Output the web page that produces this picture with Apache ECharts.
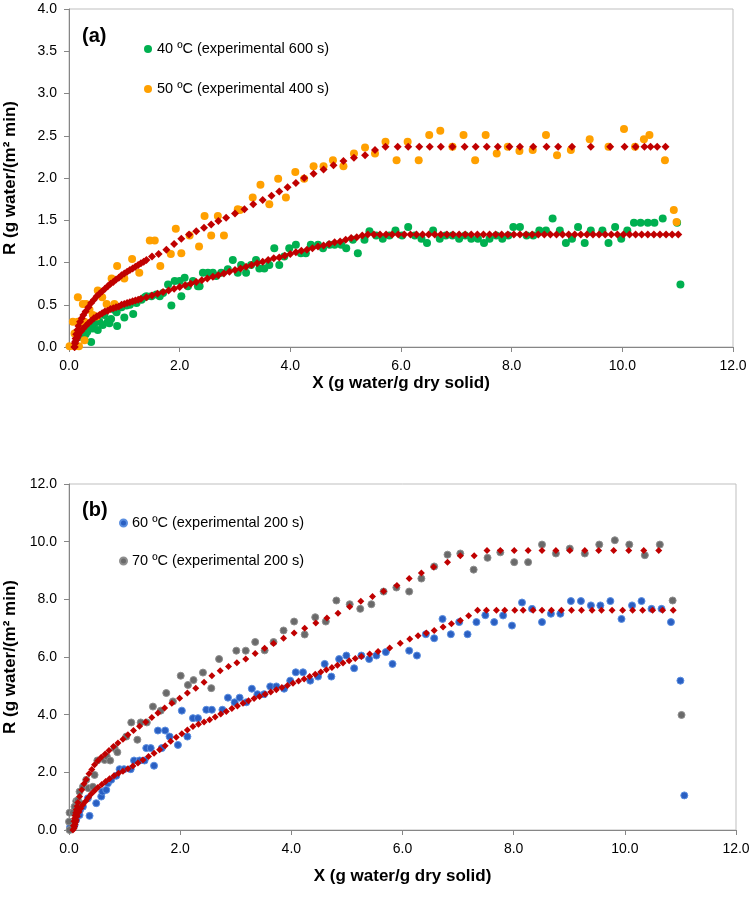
<!DOCTYPE html>
<html>
<head>
<meta charset="utf-8">
<script src="https://cdn.jsdelivr.net/npm/echarts@6/dist/echarts.min.js"></script>
<style>
html,body{margin:0;padding:0;background:#fff;}
#chart{width:749px;height:898px;}
</style>
</head>
<body>
<div id="chart"></div>
<script>
// ---------- tick / label data ----------
const panelLabels = ['(a)', '(b)'];
const xTitle = 'X (g water/g dry solid)';
const yTitle = 'R (g water/(m\u00B2 min)';
const legendTop = ['40 \u00BAC (experimental 600 s)', '50 \u00BAC (experimental 400 s)'];
const legendBottom = ['60 \u00BAC (experimental 200 s)', '70 \u00BAC (experimental 200 s)'];

// ---------- panel (a) ----------
const exp40 = [[0.19,0.18],[0.22,0.12],[0.28,0.2],[0.30,0.15],[0.33,0.18],[0.40,0.06],[0.37,0.22],[0.43,0.22],[0.46,0.28],[0.52,0.20],[0.55,0.30],[0.61,0.26],[0.64,0.38],[0.70,0.30],[0.73,0.28],[0.76,0.33],[0.82,0.44],[0.86,0.41],[0.87,0.25],[0.92,0.47],[0.95,0.47],[1.0,0.35],[1.04,0.49],[1.10,0.50],[1.16,0.39],[1.22,0.52],[1.31,0.56],[1.37,0.59],[1.40,0.60],[1.49,0.60],[1.58,0.62],[1.64,0.60],[1.70,0.64],[1.79,0.74],[1.85,0.49],[1.91,0.78],[2.0,0.78],[2.03,0.60],[2.09,0.82],[2.15,0.72],[2.24,0.78],[2.33,0.72],[2.36,0.72],[2.42,0.88],[2.51,0.88],[2.60,0.88],[2.66,0.84],[2.75,0.88],[2.87,0.92],[2.96,1.03],[3.05,0.88],[3.11,0.97],[3.20,0.88],[3.29,0.97],[3.38,1.03],[3.44,0.93],[3.53,0.93],[3.62,0.97],[3.71,1.17],[3.80,0.97],[3.89,1.07],[3.98,1.17],[4.10,1.21],[4.19,1.11],[4.28,1.11],[4.37,1.21],[4.50,1.21],[4.59,1.17],[4.71,1.21],[4.80,1.21],[4.92,1.21],[5.01,1.17],[5.13,1.27],[5.22,1.11],[5.34,1.27],[5.43,1.37],[5.55,1.32],[5.67,1.28],[5.79,1.32],[5.90,1.38],[6.02,1.32],[6.13,1.42],[6.25,1.32],[6.37,1.28],[6.47,1.23],[6.58,1.38],[6.70,1.28],[6.81,1.32],[6.93,1.32],[7.05,1.28],[7.16,1.32],[7.27,1.28],[7.39,1.28],[7.50,1.23],[7.60,1.28],[7.72,1.32],[7.83,1.28],[7.94,1.32],[8.03,1.42],[8.15,1.42],[8.27,1.32],[8.39,1.32],[8.50,1.38],[8.62,1.38],[8.74,1.52],[8.87,1.38],[8.98,1.23],[9.09,1.28],[9.20,1.42],[9.32,1.23],[9.43,1.38],[9.64,1.38],[9.75,1.23],[9.87,1.42],[9.98,1.28],[10.09,1.38],[10.21,1.47],[10.33,1.47],[10.46,1.47],[10.58,1.47],[10.73,1.52],[10.99,1.47],[11.05,0.74]];

const exp50 = [[0.01,0.01],[0.10,0.01],[0.18,0.01],[0.10,0.16],[0.07,0.30],[0.16,0.30],[0.22,0.30],[0.28,0.30],[0.16,0.59],[0.25,0.51],[0.31,0.51],[0.28,0.08],[0.37,0.44],[0.43,0.38],[0.50,0.36],[0.52,0.67],[0.60,0.59],[0.68,0.51],[0.77,0.81],[0.82,0.51],[0.87,0.96],[1.0,0.81],[1.14,1.04],[1.27,0.88],[1.46,1.26],[1.55,1.26],[1.65,0.96],[1.84,1.10],[1.93,1.40],[2.03,1.11],[2.18,1.32],[2.35,1.19],[2.45,1.55],[2.57,1.32],[2.69,1.55],[2.80,1.32],[3.05,1.63],[3.09,1.62],[3.32,1.77],[3.46,1.92],[3.62,1.69],[3.78,1.99],[3.92,1.77],[4.09,2.07],[4.25,1.99],[4.42,2.14],[4.60,2.14],[4.77,2.21],[4.96,2.14],[5.15,2.29],[5.35,2.36],[5.53,2.29],[5.72,2.43],[5.92,2.21],[6.12,2.43],[6.32,2.21],[6.51,2.51],[6.71,2.56],[6.93,2.37],[7.13,2.51],[7.34,2.21],[7.53,2.51],[7.73,2.29],[7.93,2.37],[8.14,2.32],[8.38,2.33],[8.62,2.51],[8.82,2.27],[9.07,2.33],[9.41,2.46],[9.75,2.37],[10.03,2.58],[10.23,2.37],[10.39,2.46],[10.49,2.51],[10.77,2.21],[10.93,1.62],[10.98,1.48]];

const model40 = [[0.10,0.0],[0.11,0.04],[0.13,0.08],[0.15,0.11],[0.17,0.14],[0.19,0.17],[0.22,0.19],[0.26,0.22],[0.30,0.25],[0.35,0.28],[0.40,0.31],[0.45,0.34],[0.50,0.36],[0.55,0.38],[0.60,0.40],[0.65,0.42],[0.70,0.43],[0.75,0.45],[0.80,0.46],[0.85,0.47],[0.90,0.48],[0.95,0.50],[1.0,0.51],[1.05,0.52],[1.1,0.53],[1.15,0.54],[1.2,0.55],[1.25,0.56],[1.3,0.57],[1.4,0.59],[1.5,0.61],[1.6,0.63],[1.7,0.65],[1.8,0.67],[1.9,0.69],[2.0,0.71],[2.1,0.73],[2.2,0.75],[2.3,0.77],[2.4,0.79],[2.5,0.81],[2.6,0.83],[2.7,0.85],[2.8,0.87],[2.9,0.89],[3.0,0.91],[3.1,0.93],[3.2,0.95],[3.3,0.97],[3.4,0.99],[3.5,1.01],[3.6,1.03],[3.7,1.05],[3.8,1.06],[3.9,1.08],[4.0,1.10],[4.1,1.12],[4.2,1.14],[4.3,1.15],[4.4,1.17],[4.5,1.19],[4.6,1.20],[4.7,1.22],[4.8,1.24],[4.9,1.25],[5.0,1.27],[5.1,1.29],[5.2,1.30],[5.3,1.32],[5.4,1.33],[5.51,1.33],[5.62,1.33],[5.73,1.33],[5.84,1.33],[5.95,1.33],[6.06,1.33],[6.17,1.33],[6.28,1.33],[6.39,1.33],[6.5,1.33],[6.61,1.33],[6.72,1.33],[6.83,1.33],[6.94,1.33],[7.05,1.33],[7.16,1.33],[7.27,1.33],[7.38,1.33],[7.49,1.33],[7.6,1.33],[7.71,1.33],[7.82,1.33],[7.93,1.33],[8.04,1.33],[8.15,1.33],[8.26,1.33],[8.37,1.33],[8.48,1.33],[8.59,1.33],[8.7,1.33],[8.81,1.33],[8.92,1.33],[9.03,1.33],[9.14,1.33],[9.25,1.33],[9.36,1.33],[9.47,1.33],[9.58,1.33],[9.69,1.33],[9.8,1.33],[9.91,1.33],[10.02,1.33],[10.13,1.33],[10.24,1.33],[10.35,1.33],[10.46,1.33],[10.57,1.33],[10.68,1.33],[10.79,1.33],[10.9,1.33],[11.01,1.33]];

const model50 = [[0.10,0.0],[0.11,0.06],[0.12,0.10],[0.13,0.15],[0.15,0.20],[0.17,0.25],[0.20,0.30],[0.23,0.34],[0.26,0.38],[0.30,0.42],[0.35,0.47],[0.40,0.52],[0.45,0.56],[0.50,0.60],[0.55,0.63],[0.60,0.66],[0.65,0.69],[0.70,0.72],[0.75,0.75],[0.80,0.77],[0.85,0.80],[0.90,0.82],[0.95,0.85],[1.0,0.87],[1.05,0.89],[1.1,0.91],[1.15,0.93],[1.2,0.95],[1.25,0.97],[1.3,0.99],[1.35,1.01],[1.4,1.03],[1.5,1.07],[1.62,1.10],[1.76,1.15],[1.90,1.22],[2.03,1.28],[2.17,1.33],[2.30,1.37],[2.44,1.41],[2.57,1.45],[2.70,1.49],[2.84,1.53],[3.00,1.58],[3.17,1.63],[3.33,1.69],[3.50,1.74],[3.66,1.79],[3.80,1.84],[3.95,1.89],[4.10,1.94],[4.25,2.00],[4.42,2.05],[4.60,2.10],[4.78,2.15],[4.96,2.20],[5.15,2.24],[5.35,2.27],[5.53,2.33],[5.72,2.37],[5.94,2.37],[6.13,2.37],[6.33,2.37],[6.52,2.37],[6.72,2.37],[6.93,2.37],[7.15,2.37],[7.35,2.37],[7.55,2.37],[7.75,2.37],[7.96,2.37],[8.15,2.37],[8.39,2.37],[8.63,2.37],[8.84,2.37],[9.09,2.37],[9.43,2.37],[9.78,2.37],[10.04,2.37],[10.24,2.37],[10.40,2.37],[10.51,2.37],[10.63,2.37],[10.78,2.37]];

// ---------- panel (b) ----------
const exp60 = [[0.02,0.1],[0.10,0.17],[0.13,0.35],[0.19,0.52],[0.20,0.7],[0.25,0.81],[0.37,0.49],[0.34,1.1],[0.49,0.93],[0.58,1.16],[0.60,1.33],[0.67,1.39],[0.70,1.62],[0.76,1.74],[0.85,1.88],[0.91,2.11],[0.99,2.11],[1.11,2.11],[1.17,2.41],[1.27,2.41],[1.36,2.41],[1.39,2.84],[1.47,2.84],[1.53,2.23],[1.60,3.45],[1.67,2.84],[1.73,3.45],[1.81,3.24],[1.96,2.95],[2.03,4.14],[2.13,3.24],[2.23,3.88],[2.32,3.88],[2.47,4.17],[2.57,4.17],[2.76,4.17],[2.86,4.59],[2.98,4.43],[3.07,4.59],[3.19,4.43],[3.29,4.9],[3.39,4.71],[3.51,4.71],[3.62,4.98],[3.73,4.98],[3.87,4.9],[3.98,5.18],[4.08,5.47],[4.21,5.47],[4.34,5.18],[4.48,5.32],[4.60,5.76],[4.72,5.32],[4.86,5.93],[4.99,6.05],[5.13,5.61],[5.26,6.05],[5.40,5.93],[5.53,6.05],[5.70,6.17],[5.82,5.76],[6.12,6.22],[6.26,6.05],[6.42,6.79],[6.57,6.65],[6.72,7.32],[6.87,6.79],[7.02,7.21],[7.17,6.79],[7.33,7.21],[7.49,7.45],[7.65,7.21],[7.81,7.44],[7.97,7.09],[8.15,7.89],[8.33,7.67],[8.51,7.21],[8.67,7.5],[8.84,7.5],[9.03,7.94],[9.21,7.94],[9.39,7.79],[9.56,7.79],[9.74,7.94],[9.94,7.32],[10.13,7.79],[10.30,7.94],[10.48,7.67],[10.66,7.67],[10.83,7.21],[11.0,5.18],[11.07,1.2]];

const exp70 = [[0.01,0.0],[0.0,0.29],[0.01,0.6],[0.07,0.6],[0.10,0.81],[0.13,1.0],[0.16,1.04],[0.22,0.9],[0.19,1.33],[0.25,1.5],[0.31,1.74],[0.35,1.45],[0.43,1.50],[0.46,1.91],[0.51,2.41],[0.64,2.43],[0.68,2.55],[0.74,2.41],[0.82,2.84],[0.87,2.70],[1.03,3.24],[1.12,3.73],[1.23,3.13],[1.29,3.73],[1.40,3.73],[1.51,4.28],[1.65,4.14],[1.75,4.75],[1.87,4.46],[2.01,5.35],[2.14,5.03],[2.24,5.2],[2.41,5.46],[2.56,4.92],[2.70,5.93],[3.01,6.22],[3.18,6.22],[3.35,6.52],[3.52,6.23],[3.68,6.52],[3.86,6.92],[4.05,7.23],[4.24,6.78],[4.43,7.38],[4.62,7.23],[4.81,7.96],[5.05,7.83],[5.24,7.67],[5.44,7.83],[5.66,8.27],[5.89,8.41],[6.12,8.27],[6.34,8.72],[6.57,9.14],[6.81,9.55],[7.04,9.59],[7.28,9.03],[7.53,9.44],[7.76,9.63],[8.01,9.29],[8.26,9.29],[8.51,9.9],[8.76,9.59],[9.01,9.76],[9.28,9.59],[9.54,9.9],[9.82,10.05],[10.08,9.9],[10.36,9.53],[10.63,9.9],[10.86,7.96],[11.02,3.99]];

const model60 = [[0.09,0.05],[0.10,0.12],[0.11,0.2],[0.12,0.28],[0.13,0.35],[0.15,0.48],[0.18,0.62],[0.21,0.75],[0.25,0.88],[0.30,1.0],[0.35,1.13],[0.40,1.25],[0.46,1.36],[0.52,1.47],[0.59,1.58],[0.66,1.68],[0.73,1.78],[0.81,1.88],[0.89,1.97],[0.97,2.04],[1.06,2.12],[1.15,2.22],[1.24,2.32],[1.33,2.43],[1.43,2.55],[1.53,2.66],[1.63,2.78],[1.73,2.92],[1.83,3.08],[1.93,3.22],[2.03,3.34],[2.13,3.47],[2.23,3.59],[2.33,3.67],[2.43,3.75],[2.53,3.82],[2.63,3.92],[2.73,4.02],[2.83,4.11],[2.93,4.21],[3.03,4.30],[3.13,4.40],[3.23,4.48],[3.33,4.56],[3.43,4.63],[3.53,4.71],[3.63,4.79],[3.73,4.86],[3.83,4.94],[3.93,5.01],[4.03,5.09],[4.13,5.17],[4.23,5.24],[4.33,5.32],[4.43,5.40],[4.53,5.48],[4.63,5.56],[4.73,5.64],[4.83,5.71],[4.93,5.79],[5.04,5.87],[5.15,5.95],[5.26,6.02],[5.41,6.10],[5.56,6.19],[5.77,6.31],[5.96,6.48],[6.13,6.62],[6.28,6.74],[6.43,6.83],[6.57,6.92],[6.73,7.04],[6.88,7.15],[7.04,7.27],[7.19,7.43],[7.35,7.62],[7.51,7.62],[7.69,7.62],[7.84,7.62],[8.02,7.62],[8.17,7.62],[8.35,7.62],[8.51,7.62],[8.68,7.62],[8.86,7.62],[9.04,7.62],[9.22,7.62],[9.41,7.62],[9.58,7.62],[9.77,7.62],[9.96,7.62],[10.14,7.62],[10.32,7.62],[10.50,7.62],[10.68,7.62],[10.87,7.62]];

const model70 = [[0.07,0.0],[0.08,0.15],[0.09,0.3],[0.10,0.4],[0.11,0.5],[0.12,0.6],[0.13,0.7],[0.145,0.82],[0.16,0.95],[0.19,1.16],[0.23,1.4],[0.27,1.6],[0.31,1.75],[0.36,1.95],[0.41,2.1],[0.46,2.26],[0.52,2.4],[0.58,2.52],[0.65,2.64],[0.72,2.76],[0.80,2.9],[0.88,3.02],[0.97,3.15],[1.06,3.3],[1.16,3.45],[1.27,3.6],[1.38,3.75],[1.49,3.9],[1.60,4.06],[1.72,4.23],[1.85,4.40],[1.99,4.57],[2.13,4.75],[2.28,4.92],[2.43,5.12],[2.57,5.35],[2.72,5.52],[2.87,5.67],[3.02,5.80],[3.18,5.93],[3.35,6.12],[3.52,6.30],[3.68,6.47],[3.86,6.65],[4.05,6.83],[4.24,7.0],[4.44,7.18],[4.64,7.35],[4.84,7.52],[5.05,7.74],[5.25,7.93],[5.46,8.10],[5.66,8.28],[5.90,8.48],[6.12,8.72],[6.34,8.91],[6.56,9.12],[6.81,9.29],[7.04,9.51],[7.29,9.51],[7.52,9.69],[7.76,9.69],[8.01,9.69],[8.26,9.69],[8.51,9.69],[8.76,9.69],[9.01,9.69],[9.28,9.69],[9.53,9.69],[9.80,9.69],[10.07,9.69],[10.34,9.69],[10.61,9.69]];

// ---------- chart ----------
const FONT = '"Liberation Sans", Arial, sans-serif';
const axisColor = '#868686';
const fmt1 = v => v.toFixed(1);

function xAx(grid, gap) {
  return {
    gridIndex: grid, type: 'value', min: 0, max: 12, interval: 2,
    name: xTitle, nameLocation: 'middle', nameGap: gap,
    nameTextStyle: { fontFamily: FONT, fontSize: 17, fontWeight: 'bold', color: '#000' },
    axisLine: { lineStyle: { color: axisColor, width: 1 } },
    axisTick: { show: true, inside: false, length: 5, lineStyle: { color: axisColor } },
    axisLabel: { formatter: fmt1, fontFamily: FONT, fontSize: 14, color: '#000', margin: 12 },
    splitLine: { show: false }
  };
}
function yAx(grid, max, interval) {
  return {
    gridIndex: grid, type: 'value', min: 0, max: max, interval: interval,
    name: yTitle, nameLocation: 'middle', nameGap: 50, nameRotate: 90,
    nameTextStyle: { fontFamily: FONT, fontSize: 17, fontWeight: 'bold', color: '#000' },
    axisLine: { show: true, lineStyle: { color: axisColor, width: 1 } },
    axisTick: { show: true, inside: false, length: 5, lineStyle: { color: axisColor } },
    axisLabel: { formatter: fmt1, fontFamily: FONT, fontSize: 14, color: '#000', margin: 12 },
    splitLine: { show: false }
  };
}
function sc(name, data, xi, color, size, symbol, border) {
  return {
    type: 'scatter', name: name, data: data, xAxisIndex: xi, yAxisIndex: xi,
    symbol: symbol || 'circle', symbolSize: size,
    itemStyle: Object.assign({ color: color, opacity: 1 }, border || {}),
    emphasis: { disabled: true }, silent: true
  };
}

const chart = echarts.init(document.getElementById('chart'), null, { renderer: 'canvas' });
chart.setOption({
  animation: false,
  backgroundColor: '#fff',
  textStyle: { fontFamily: FONT },
  grid: [
    { left: 69, top: 9, width: 664, height: 338, show: true, borderColor: '#bfbfbf', borderWidth: 1, backgroundColor: 'transparent', containLabel: false, outerBoundsMode: 'none' },
    { left: 69, top: 484, width: 667, height: 346, show: true, borderColor: '#bfbfbf', borderWidth: 1, backgroundColor: 'transparent', containLabel: false, outerBoundsMode: 'none' }
  ],
  xAxis: [xAx(0, 28), xAx(1, 38)],
  yAxis: [yAx(0, 4, 0.5), yAx(1, 12, 2)],
  legend: [
    { data: legendTop, orient: 'vertical', left: 144, top: 41, padding: 0, itemGap: 24,
      icon: 'circle', itemWidth: 8, itemHeight: 8, selectedMode: false,
      textStyle: { fontFamily: FONT, fontSize: 14.5, color: '#000', lineHeight: 16 } },
    { data: legendBottom, orient: 'vertical', left: 119, top: 515, padding: 0, itemGap: 22,
      icon: 'circle', itemWidth: 7, itemHeight: 7, selectedMode: false,
      textStyle: { fontFamily: FONT, fontSize: 14.5, color: '#000', lineHeight: 16 } }
  ],
  graphic: [
    { type: 'text', left: 82, top: 26, style: { text: panelLabels[0], font: 'bold 20px ' + FONT, fill: '#000' } },
    { type: 'text', left: 82, top: 500, style: { text: panelLabels[1], font: 'bold 20px ' + FONT, fill: '#000' } }
  ],
  series: [
    sc(legendTop[0], exp40, 0, '#00b050', 8),
    sc(legendTop[1], exp50, 0, '#ffa000', 8),
    sc('Model 40', model40, 0, '#c00000', 8, 'diamond'),
    sc('Model 50', model50, 0, '#c00000', 8, 'diamond'),
    sc(legendBottom[0], exp60, 1, '#2a5fc2', 7, 'circle', { borderColor: '#5a8ee0', borderWidth: 1 }),
    sc(legendBottom[1], exp70, 1, '#6a6a6a', 7, 'circle', { borderColor: '#8e8e8e', borderWidth: 1 }),
    sc('Model 60', model60, 1, '#c00000', 7, 'diamond'),
    sc('Model 70', model70, 1, '#c00000', 7, 'diamond')
  ]
});
</script>
</body>
</html>
